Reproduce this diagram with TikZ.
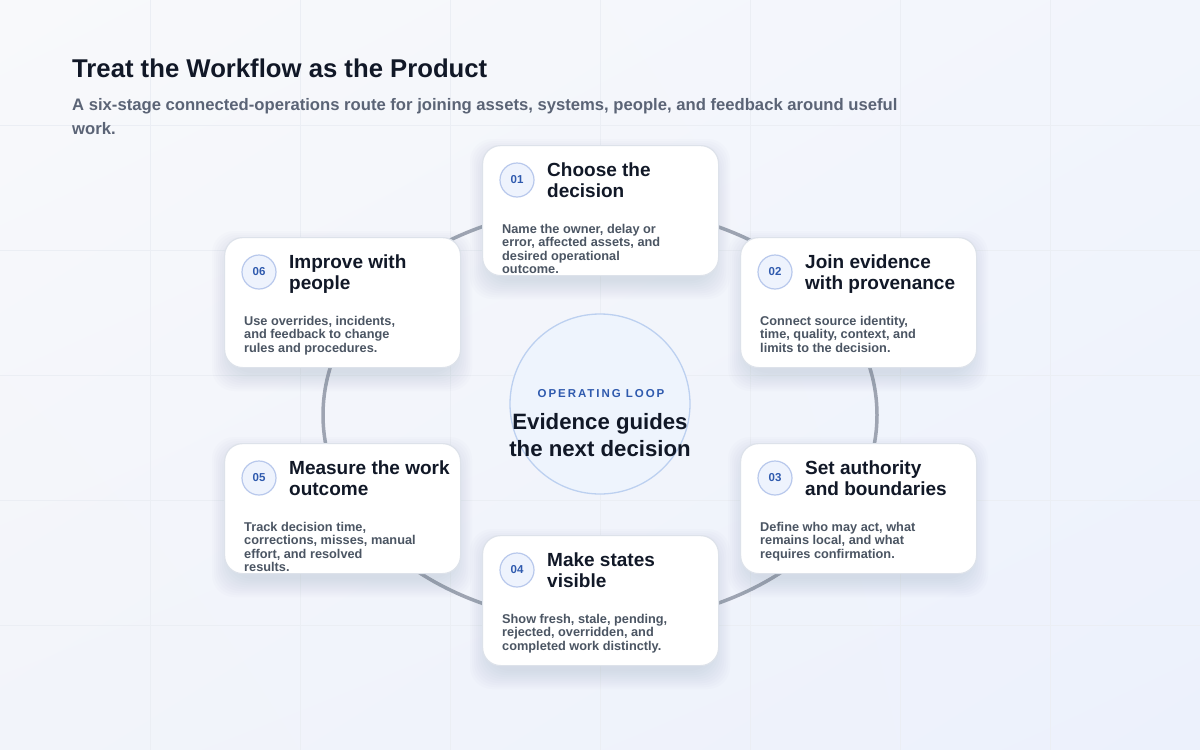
\documentclass[tikz,border=0pt]{standalone}
\usepackage{fontspec}
\setmainfont{Liberation Sans}
\usetikzlibrary{shadings}
\definecolor{ink}{HTML}{111827}
\definecolor{bodyc}{HTML}{4B5563}
\definecolor{subc}{HTML}{5B6476}
\definecolor{numc}{HTML}{2F5AAE}
\definecolor{ringc}{HTML}{9EA4B2}
\definecolor{cardb}{HTML}{DDE2EA}
\definecolor{badgef}{HTML}{EEF3FD}
\definecolor{badgeb}{HTML}{B8C8EC}
\definecolor{hubf}{HTML}{EEF4FD}
\definecolor{hubb}{HTML}{BCD0F0}
\definecolor{gridc}{HTML}{EBEEF4}
\definecolor{shadowc}{HTML}{5A6A8C}
\definecolor{bgTL}{HTML}{F8F9FB}
\definecolor{bgTR}{HTML}{F2F5FC}
\definecolor{bgBL}{HTML}{F2F4FA}
\definecolor{bgBR}{HTML}{ECF1FC}
\tikzset{
  card/.style={draw=cardb, line width=1.2pt, fill=white, rounded corners=18pt,
    minimum width=236pt, minimum height=130pt, inner sep=0pt},
  softshadow/.style={fill=shadowc, fill opacity=0.014, draw=none, rounded corners=22pt},
  badge/.style={circle, draw=badgeb, line width=1.2pt, fill=badgef, minimum size=34pt,
    inner sep=0pt, font=\bfseries\fontsize{11.5}{13}\selectfont, text=numc},
  ctitle/.style={anchor=base west, inner sep=0pt, font=\bfseries\fontsize{19}{21}\selectfont, text=ink},
  cbody/.style={anchor=base west, inner sep=0pt, font=\bfseries\fontsize{12.75}{13.4}\selectfont, text=bodyc},
  gridline/.style={draw=gridc, line width=1pt},
}
\newcommand\stagecard[6]{%
  \foreach \s in {0,2,...,18}
    \fill[softshadow] (#2+6-\s,#3+12-\s) rectangle (#2+230+\s,#3+136+\s);
  \node[card, anchor=north west] (#1) at (#2,#3) {};
  \node[badge] (#1n) at (#2+35,#3+35) {#4};
  \node[ctitle] (#1t) at (#2+65,#3+31) {\parbox[t]{170pt}{\raggedright #5}};
  \node[cbody] (#1b) at (#2+20,#3+88.5) {\parbox[t]{205pt}{\raggedright #6}};
}
\begin{document}
\begin{tikzpicture}[x=1pt,y=-1pt]
\useasboundingbox (0,0) rectangle (1200,750);
\shade[upper left=bgTL, upper right=bgTR, lower left=bgBL, lower right=bgBR] (0,0) rectangle (1200,750);
\foreach \x in {150,300,...,1050} \draw[gridline] (\x,0) -- (\x,750);
\foreach \y in {125,250,...,625} \draw[gridline] (0,\y) -- (1200,\y);

\node[anchor=base west, inner sep=0pt, font=\bfseries\fontsize{25.7}{30}\selectfont, text=ink] (title) at (72,77) {Treat the Workflow as the Product};
\node[anchor=base west, inner sep=0pt, font=\bfseries\fontsize{16.65}{24}\selectfont, text=subc] (subtitle) at (72,110)
  {\parbox[t]{900pt}{\raggedright A six-stage connected-operations route for joining assets, systems, people, and feedback around useful\\work.}};

\draw[ringc, line width=3.5pt] (600,415) ellipse [x radius=277, y radius=208];

\node[circle, draw=hubb, line width=1.3pt, fill=hubf, minimum size=180pt, inner sep=0pt] (hub) at (600,404) {};
\node[anchor=base, inner sep=0pt, font=\bfseries\fontsize{11.5}{14}\selectfont\addfontfeature{LetterSpace=17}, text=numc] (hubk) at (601,397) {OPERATING LOOP};
\node[anchor=base, inner sep=0pt, font=\bfseries\fontsize{22.2}{27}\selectfont, text=ink] (hubt) at (600,429)
  {\parbox[t]{220pt}{\centering Evidence guides\\the next decision}};

\stagecard{s1}{482}{145}{01}{Choose the\\decision}{Name the owner, delay or\\error, affected assets, and\\desired operational\\outcome.}
\stagecard{s2}{740}{237}{02}{Join evidence\\with provenance}{Connect source identity,\\time, quality, context, and\\limits to the decision.}
\stagecard{s3}{740}{443}{03}{Set authority\\and boundaries}{Define who may act, what\\remains local, and what\\requires confirmation.}
\stagecard{s4}{482}{535}{04}{Make states\\visible}{Show fresh, stale, pending,\\rejected, overridden, and\\completed work distinctly.}
\stagecard{s5}{224}{443}{05}{Measure the work\\outcome}{Track decision time,\\corrections, misses, manual\\effort, and resolved\\results.}
\stagecard{s6}{224}{237}{06}{Improve with\\people}{Use overrides, incidents,\\and feedback to change\\rules and procedures.}
\end{tikzpicture}
\end{document}
